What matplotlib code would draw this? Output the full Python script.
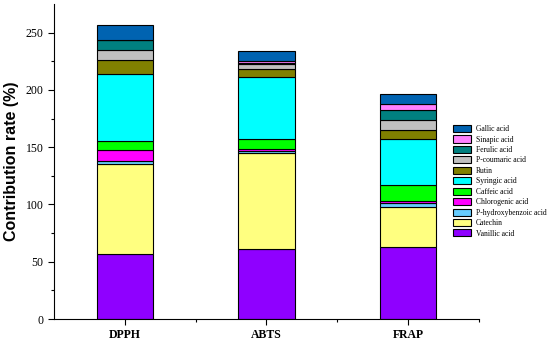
import matplotlib
matplotlib.use("Agg")
import matplotlib.pyplot as plt
import numpy as np

categories = ["DPPH", "ABTS", "FRAP"]
compounds = ["Vanillic acid", "Catechin", "P-hydroxybenzoic acid", "Chlorogenic acid",
             "Caffeic acid", "Syringic acid", "Rutin", "P-coumaric acid",
             "Ferulic acid", "Sinapic acid", "Gallic acid"]
vanillic = [57.0, 61.2, 62.7]
catechin = [78.4, 83.3, 35.5]
p_hydroxybenzoic = [2.2, 2.0, 3.5]
chlorogenic = [9.6, 2.0, 1.7]
caffeic = [7.9, 9.0, 13.7]
syringic = [59.0, 53.8, 40.0]
rutin = [11.9, 6.9, 7.6]
p_coumaric = [8.7, 4.8, 8.7]
ferulic = [8.5, 0.8, 8.7]
sinapic = [0.0, 1.2, 5.8]
gallic = [13.1, 9.3, 8.8]
series = [vanillic, catechin, p_hydroxybenzoic, chlorogenic, caffeic, syringic,
          rutin, p_coumaric, ferulic, sinapic, gallic]
colors = ["#8F00FF", "#FFFF80", "#66CCFF", "#FF00FF", "#00FF00", "#00FFFF",
          "#808000", "#C0C0C0", "#008080", "#FF80FF", "#0063B1"]

fig = plt.figure(figsize=(5.5, 3.43), dpi=100)
ax = fig.add_axes([54/550, 24/343, (479-54)/550, (319-4)/343])

x = np.arange(1, len(categories) + 1)
bottom = np.zeros(len(categories))
handles = []
for name, vals, c in zip(compounds, series, colors):
    v = np.array(vals)
    b = ax.bar(x, v, 0.4, bottom=bottom, color=c, edgecolor="black",
               linewidth=0.8, label=name)
    handles.append(b)
    bottom += v

ax.set_xlim(0.5, 3.5)
ax.set_ylim(0, 275)
ax.set_xticks(x)
ax.set_xticklabels(categories, fontfamily="Liberation Serif", fontweight="bold", fontsize=8.5)
ax.set_xticks([1.5, 2.5, 3.5], minor=True)
ax.set_yticks([0, 50, 100, 150, 200, 250])
ax.set_yticks(np.arange(25, 275, 50), minor=True)
for lab in ax.get_yticklabels():
    lab.set_fontfamily("Liberation Serif")
    lab.set_fontsize(8.5)
ax.tick_params(axis="both", which="major", direction="out", length=4, width=0.8)
ax.tick_params(axis="both", which="minor", direction="out", length=2.5, width=0.8)
ax.spines["top"].set_visible(False)
ax.spines["right"].set_visible(False)
ax.set_ylabel("Contribution rate (%)", fontfamily="Liberation Sans", fontweight="bold",
              fontsize=11.5, labelpad=5)

leg = fig.legend(handles[::-1], compounds[::-1], loc="upper left",
                 bbox_to_anchor=(453/550, 1 - 125/343), frameon=False,
                 prop={"family": "Liberation Serif", "size": 5.5},
                 handlelength=2.4, handleheight=1.05, labelspacing=0.3,
                 handletextpad=0.6, borderpad=0, borderaxespad=0)

fig.savefig("out.png", dpi=100)
